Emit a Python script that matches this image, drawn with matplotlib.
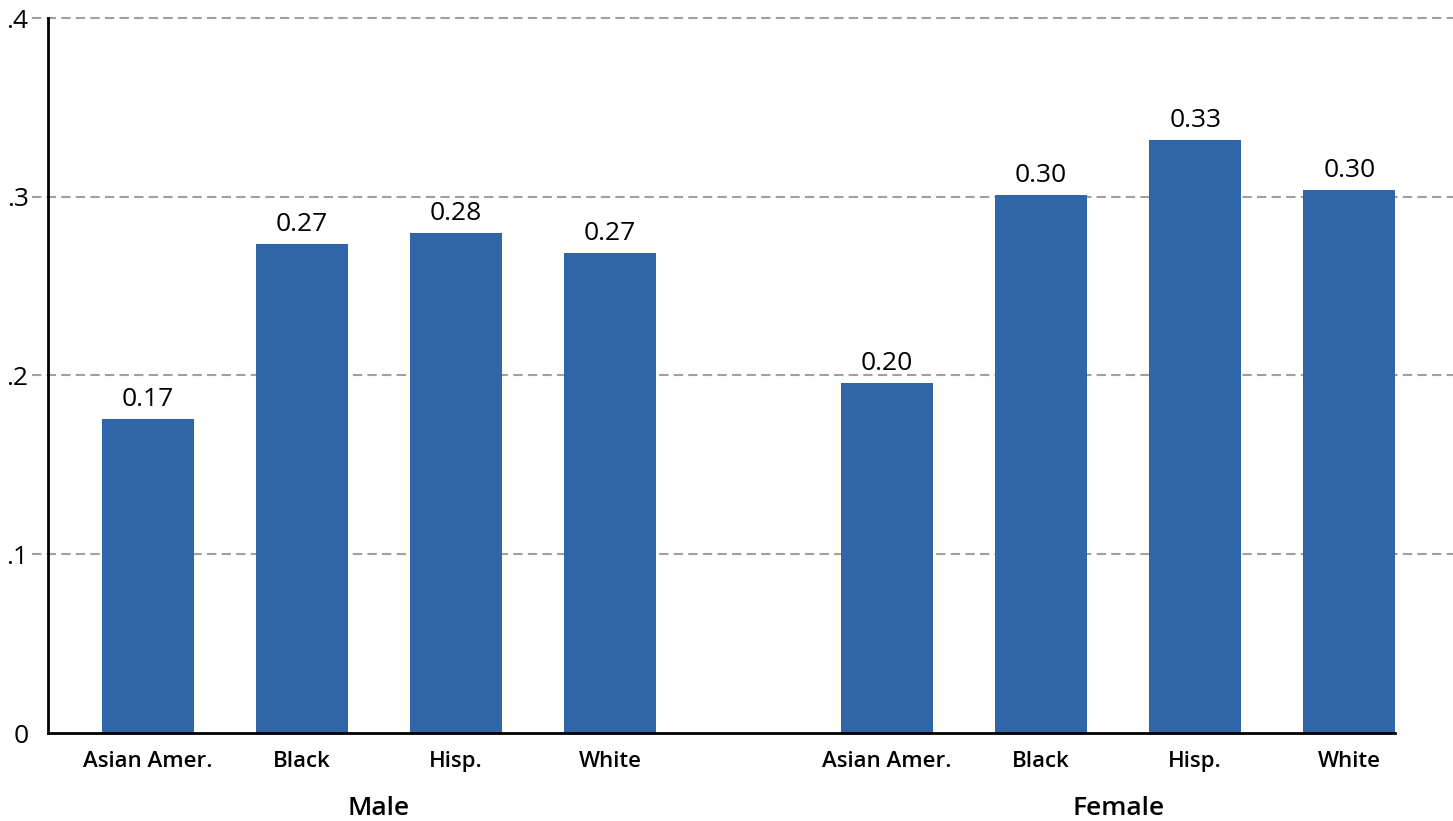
import matplotlib.pyplot as plt
import numpy as np

plt.rcParams['font.family'] = ['Open Sans', 'DejaVu Sans']

categories = ["Asian Amer.", "Black", "Hisp.", "White",
              "Asian Amer.", "Black", "Hisp.", "White"]
groups = ["Male", "Female"]
values = [0.1755, 0.2736, 0.2797, 0.2685,
          0.1958, 0.3010, 0.3317, 0.3038]
value_labels = ["0.17", "0.27", "0.28", "0.27",
                "0.20", "0.30", "0.33", "0.30"]
y_ticks = [0, 0.1, 0.2, 0.3, 0.4]
y_tick_labels = ["0", ".1", ".2", ".3", ".4"]

bar_color = '#3066A8'


def main():
    # two groups of four, with a wider gap between the groups
    pos = np.array([0, 1, 2, 3, 4.8, 5.8, 6.8, 7.8])
    width = 0.6

    fig = plt.figure(figsize=(14.53, 8.21), dpi=100)
    ax = fig.add_axes([48 / 1453, 88 / 821, 1 - 48 / 1453, 715 / 821])

    ax.bar(pos, values, width=width, color=bar_color, zorder=3)
    for x, v, lab in zip(pos, values, value_labels):
        ax.annotate(lab, (x, v), xytext=(0, 5), textcoords='offset points',
                    ha='center', va='bottom', fontsize=19, fontweight=500)

    ax.set_xlim(-0.649, 8.474)
    ax.set_ylim(0, 0.4)

    # dashed grid lines, poking out a little left of the axis
    for t in y_ticks[1:]:
        ax.axhline(t, xmin=-16 / 1405, xmax=1, color='#a0a0a0', lw=1.5,
                   dashes=(4.5, 2.5), clip_on=False, zorder=1)

    ax.set_yticks(y_ticks, y_tick_labels, fontsize=19, fontweight=500)
    ax.set_xticks(pos, categories, fontsize=16, fontweight=600)
    ax.tick_params(axis='y', length=0, pad=14)
    ax.tick_params(axis='x', length=0, pad=13)

    for s in ['top', 'right']:
        ax.spines[s].set_visible(False)
    ax.spines['left'].set_linewidth(2)
    ax.spines['bottom'].set_linewidth(2)
    ax.spines['bottom'].set_bounds(-0.649, pos[-1] + width / 2)
    ax.spines['left'].set_zorder(4)
    ax.spines['bottom'].set_zorder(4)

    # group names under the category labels
    for g, centre in zip(groups, [pos[1:3].mean(), pos[5:7].mean()]):
        ax.text(centre, -0.046, g, ha='center', va='baseline', fontsize=19,
                fontweight=600)

    fig.savefig('out.png', dpi=100)


if __name__ == "__main__":
    main()
